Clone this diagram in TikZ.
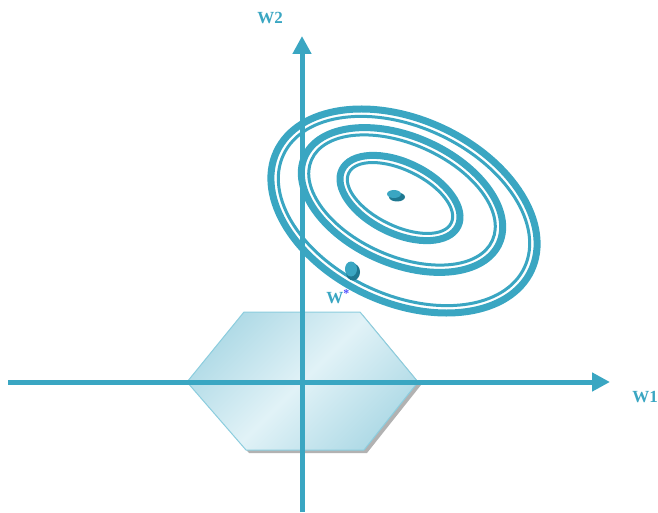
\documentclass[tikz,border=0pt]{standalone}
\usepackage{fontspec}
\setmainfont{Liberation Serif}
\usetikzlibrary{arrows.meta,shadings}
\definecolor{teal1}{RGB}{58,166,194}
\definecolor{tealdark}{RGB}{30,120,145}
\definecolor{hexline}{RGB}{140,205,222}
\definecolor{hexlight}{RGB}{225,242,247}
\definecolor{hexdark}{RGB}{175,218,230}
\tikzset{
  axis/.style={teal1, line width=5pt, -{Triangle[length=18pt,width=18pt]}},
  thickring/.style={teal1, line width=7pt},
  thinring/.style={teal1, line width=3pt},
  lbl/.style={text=teal1, font=\fontsize{17}{17}\selectfont\bfseries, inner sep=0pt},
}
\begin{document}
\begin{tikzpicture}[x=1pt,y=1pt]
\useasboundingbox (0,0) rectangle (658,512);
% hexagon shadow
\fill[gray!60] (248,197) -- (363,197) -- (421,127) -- (367,59) -- (249,59) -- (190,127) -- cycle;
% hexagon
\shade[left color=hexdark, right color=hexdark, middle color=hexlight, shading angle=45, draw=hexline, line width=1pt]
  (244,200) -- (360,200) -- (418,130) -- (364,62) -- (246,62) -- (187,130) -- cycle;
% ellipses
\begin{scope}[shift={(404,301)}, rotate=-25]
  \draw[thickring] (0,0) ellipse [x radius=140.5, y radius=91.5];
  \draw[thinring] (0,0) ellipse [x radius=133, y radius=84];
\end{scope}
\begin{scope}[shift={(402,312)}, rotate=-24]
  \draw[thickring] (0,0) ellipse [x radius=106.5, y radius=63.5];
  \draw[thinring] (0,0) ellipse [x radius=99, y radius=56];
\end{scope}
\begin{scope}[shift={(400,314)}, rotate=-26]
  \draw[thickring] (0,0) ellipse [x radius=64.5, y radius=35.5];
  \draw[thinring] (0,0) ellipse [x radius=57, y radius=28];
\end{scope}
% axes
\coordinate (xs) at (8,130);
\coordinate (xe) at (610,130);
\coordinate (ys) at (302,0);
\coordinate (ye) at (302,476);
\draw[axis] (xs) -- (xe);
\draw[axis] (ys) -- (ye);
% points
\fill[tealdark] (397,315) ellipse [x radius=8, y radius=4.5];
\fill[teal1] (394,318) ellipse [x radius=7, y radius=4];
\fill[tealdark] (353,240) ellipse [x radius=7, y radius=8.5];
\fill[teal1] (351,243) ellipse [x radius=6, y radius=7.5];
% labels
\node[lbl] (w2) at (270,494) {W2};
\node[lbl] (w1) at (645,115) {W1};
\node[text=teal1, font=\fontsize{17}{17}\selectfont\bfseries, inner sep=0pt] (ws) at (338,215) {W\textsuperscript{\color{blue!70}*}};
\end{tikzpicture}
\end{document}
